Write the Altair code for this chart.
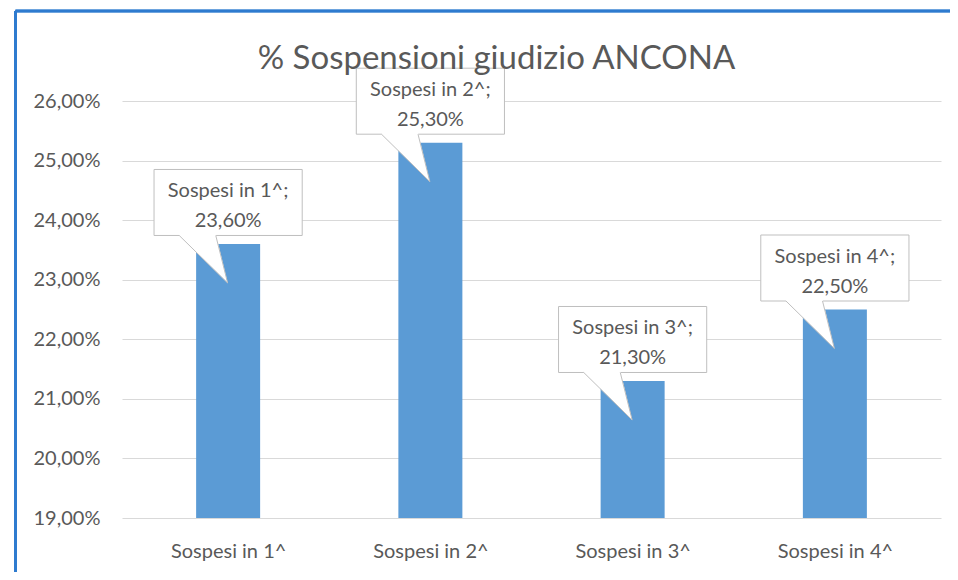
import json
import altair as alt
import pandas as pd

# ---- data ----
categories = ["Sospesi in 1^", "Sospesi in 2^", "Sospesi in 3^", "Sospesi in 4^"]
values = [23.6, 25.3, 21.3, 22.5]
y_ticks = [19, 20, 21, 22, 23, 24, 25, 26]
title_text = "% Sospensioni giudizio ANCONA"

# ---- style ----
TEXT = "#595959"
GRID = "#d9d9d9"
BAR = "#5b9bd5"
CALLOUT = "#bfbfbf"
FRAME = "#2e7bcf"
FONT = "Lato"

W, H = 819, 417
Y_MIN, Y_MAX = 19, 26
px_y = H / (Y_MAX - Y_MIN)
px_x = W / len(categories)


def fmt(v):
    return f"{v:.2f}".replace(".", ",") + "%"


df = pd.DataFrame({"i": list(range(len(categories))), "cat": categories, "v": values})
df["label1"] = df["cat"] + ";"
df["label2"] = [fmt(v) for v in values]
df["base"] = Y_MIN
# callout boxes (offsets converted from pixels to data units)
df["bx1"] = df["i"] - 75 / px_x
df["bx2"] = df["i"] + 75 / px_x
df["by1"] = df["v"] + 8.5 / px_y
df["by2"] = df["v"] + 74.5 / px_y

# callout tails
tail_rows = []
side_rows = []
for _, r in df.iterrows():
    xa = r["i"] - 49.5 / px_x
    xb = r["i"] - 12.5 / px_x
    xt = r["i"] - 0.5 / px_x
    yb = r["by1"]
    yt = r["v"] - 39 / px_y
    ycov = yb + 1.5 / px_y
    ymid = yb + (xb - xa) / (xt - xa) * (yt - yb)
    tail_rows += [
        {"cat": r["cat"], "x": xa, "y": yb, "y2": ycov},
        {"cat": r["cat"], "x": xb, "y": ymid, "y2": ycov},
        {"cat": r["cat"], "x": xt, "y": yt, "y2": yt},
    ]
    side_rows += [
        {"x": xa, "y": yb, "x2": xt, "y2": yt},
        {"x": xb, "y": yb, "x2": xt, "y2": yt},
    ]
tails = pd.DataFrame(tail_rows)
sides = pd.DataFrame(side_rows)

xscale = alt.Scale(domain=[-0.5, len(categories) - 0.5], nice=False, zero=False)
yscale = alt.Scale(domain=[Y_MIN, Y_MAX], nice=False, zero=False)

label_expr = json.dumps(categories) + "[datum.value]"

x_axis = alt.Axis(
    values=list(range(len(categories))), labelExpr=label_expr, title=None,
    grid=False, ticks=False, tickSize=0, domain=False,
    labelFont=FONT, labelFontSize=20, labelColor=TEXT,
    labelBaseline="alphabetic", labelPadding=39,
)
y_axis = alt.Axis(
    values=y_ticks, labelExpr="replace(format(datum.value, '.2f'), '.', ',') + '%'",
    title=None, grid=True, gridColor=GRID, gridWidth=1, ticks=False, tickSize=0,
    domain=False, labelFont=FONT, labelFontSize=20, labelColor=TEXT, labelPadding=22,
)

base = alt.Chart(df)

bars = base.mark_bar(color=BAR, size=64).encode(
    x=alt.X("i:Q", scale=xscale, axis=x_axis),
    y=alt.Y("v:Q", scale=yscale, axis=y_axis),
    y2="base:Q",
)

boxes = base.mark_rect(fill="white", stroke=CALLOUT, strokeWidth=1).encode(
    x=alt.X("bx1:Q", scale=xscale), x2="bx2:Q",
    y=alt.Y("by1:Q", scale=yscale), y2="by2:Q",
)

tail_fill = alt.Chart(tails).mark_area(
    fill="white", fillOpacity=1, opacity=1, interpolate="linear", orient="vertical"
).encode(
    x=alt.X("x:Q", scale=xscale),
    y=alt.Y("y:Q", scale=yscale, stack=None),
    y2="y2:Q",
    detail="cat:N",
)

tail_sides = alt.Chart(sides).mark_rule(color=CALLOUT, strokeWidth=1).encode(
    x=alt.X("x:Q", scale=xscale), x2="x2:Q",
    y=alt.Y("y:Q", scale=yscale), y2="y2:Q",
)

text1 = base.mark_text(font=FONT, fontSize=20, color=TEXT, baseline="alphabetic", dy=-47).encode(
    x=alt.X("i:Q", scale=xscale), y=alt.Y("v:Q", scale=yscale), text="label1:N",
)
text2 = base.mark_text(font=FONT, fontSize=20, color=TEXT, baseline="alphabetic", dy=-17).encode(
    x=alt.X("i:Q", scale=xscale), y=alt.Y("v:Q", scale=yscale), text="label2:N",
)

frame_v = alt.Chart(df).mark_rule(color=FRAME, strokeWidth=2.5).encode(
    x=alt.value(-106.5), y=alt.value(-90), y2=alt.value(480),
)
frame_h = alt.Chart(df).mark_rule(color=FRAME, strokeWidth=2.5).encode(
    x=alt.value(-106.5), x2=alt.value(840), y=alt.value(-90),
)

chart = alt.layer(
    frame_v, frame_h, bars, boxes, tail_fill, tail_sides, text1, text2
).properties(
    width=W, height=H,
    background="white",
    title=alt.TitleParams(
        title_text, font=FONT, fontSize=33, color=TEXT, fontWeight="normal",
        anchor="middle", dx=-35, baseline="alphabetic", offset=-92,
    ),
    autosize=alt.AutoSizeParams(type="none"),
    padding={"left": 114, "top": 93, "right": 9, "bottom": 54},
).configure_view(stroke=None, strokeWidth=0)

chart.save("out.html", embed_options={"renderer": "svg", "actions": False})
